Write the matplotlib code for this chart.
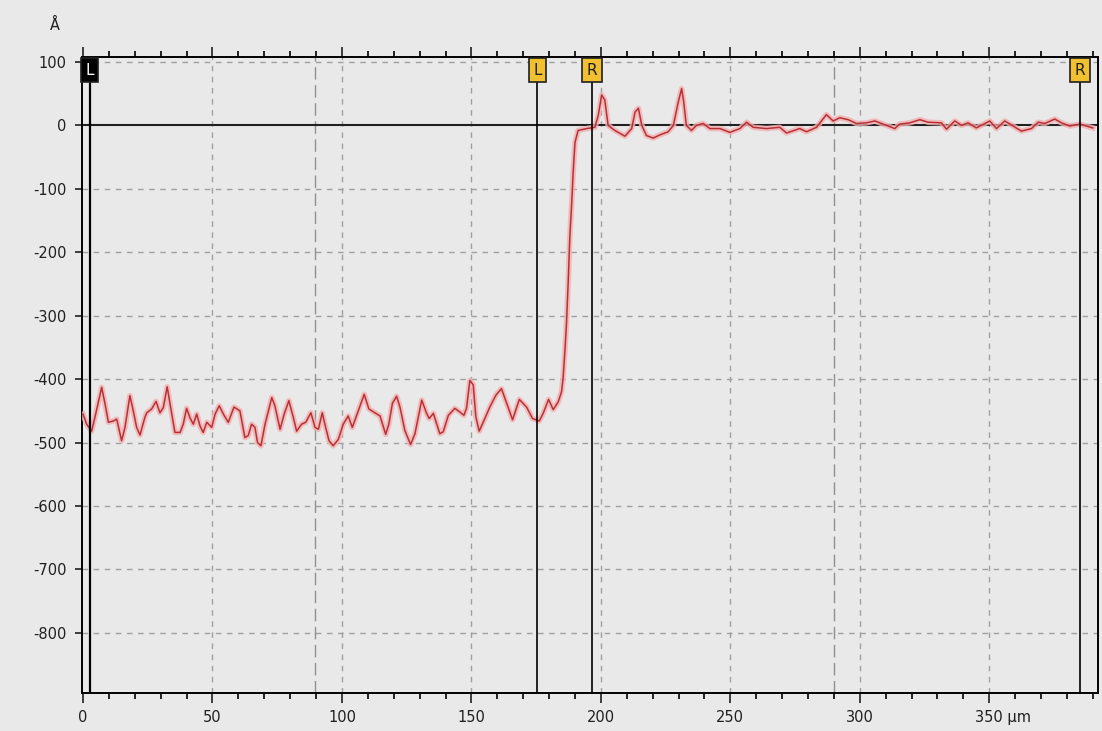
import matplotlib
matplotlib.use("Agg")
import matplotlib.pyplot as plt
from matplotlib.ticker import MultipleLocator
from matplotlib.transforms import blended_transform_factory, ScaledTranslation

plt.rcParams["axes.unicode_minus"] = False

# profile (x in µm, height in Å)
profile_x = [0, 1.4, 3.3, 4.6, 7.2, 8.5, 9.8, 11.7, 13, 14.9, 16.2, 18.1, 19.4, 20.7, 22,
             23.9, 24.6, 26.5, 28.2, 29.7, 31, 32.5, 33.6, 35.5, 37.5, 38.7, 40, 41.3, 42.6,
             43.9, 45.2, 46.4, 47.8, 49.7, 51, 52.6, 54.2, 56.1, 58.3, 60.6, 62.5, 63.8,
             65.1, 66.4, 67.4, 68.7, 70.3, 72.9, 74.1, 76.1, 77.7, 79.5, 81.2, 82.5, 84.4,
             86, 88, 89.6, 90.9, 92.4, 93.4, 95, 96.6, 98.6, 100.5, 102.4, 104, 106.3,
             108.6, 110.4, 112.7, 114.7, 116.9, 118.1, 119.5, 121.1, 122.4, 124.3, 126.5,
             128.2, 130.8, 132.7, 133.7, 135.3, 137.8, 139.1, 141.1, 143.6, 145.6, 147.1,
             148.1, 149.4, 150.7, 151.7, 153, 155.2, 157.1, 159.5, 161.6, 163.6, 165.9,
             168.5, 171.3, 173.6, 176.2, 177.7, 179.8, 181.6, 183.5, 184.8, 185.4, 186.1,
             186.7, 187.4, 188, 188.7, 189.3, 190, 191.2, 194.5, 197.7, 199, 200.3, 201.5,
             202.8, 205.4, 209.3, 211.9, 213.2, 214.5, 215.8, 217.6, 220.2, 222.8, 226,
             228, 229.9, 231.2, 232, 233, 235, 236.9, 239.5, 242.1, 246, 249.8, 253.7,
             256.3, 258.8, 264, 269.1, 271.7, 276.8, 279.4, 283.3, 287.1, 289.7, 292.3,
             295.5, 298.7, 302.6, 305.8, 309, 313.5, 315.4, 319.3, 323.2, 326.4, 331.5,
             333.5, 336.7, 339.3, 341.8, 345, 350.2, 352.8, 356, 359.2, 362.4, 366.3,
             368.9, 371.4, 375.3, 377.9, 381.1, 385, 390]
profile_y = [-455, -471, -482, -460, -413, -439, -468, -466, -463, -497, -476, -426, -450,
             -476, -488, -460, -453, -447, -435, -453, -445, -412, -439, -484, -484, -471,
             -446, -461, -471, -455, -474, -484, -468, -476, -455, -442, -455, -468, -444,
             -450, -492, -489, -471, -476, -500, -505, -471, -429, -442, -479, -455, -434,
             -460, -482, -471, -468, -453, -476, -479, -453, -471, -497, -505, -495, -471,
             -458, -476, -450, -424, -447, -453, -458, -487, -471, -438, -427, -444, -481,
             -503, -486, -433, -454, -462, -454, -486, -483, -457, -446, -452, -457, -446,
             -402, -409, -459, -482, -462, -444, -425, -415, -438, -464, -432, -444, -462,
             -466, -454, -432, -448, -436, -420, -399, -356, -314, -245, -176, -125, -74,
             -27, -8, -5, -3, 16, 48, 40, 0, -8, -17, -5, 21, 27, 0, -16, -20, -15, -10,
             0, 37, 58, 37, 0, -8, 0, 3, -5, -5, -11, -5, 5, -3, -5, -3, -12, -5, -10, -3,
             17, 7, 12, 9, 3, 4, 7, 2, -5, 2, 4, 9, 5, 4, -6, 7, 0, 4, -4, 7, -5, 7, -1,
             -9, -5, 5, 3, 10, 4, -1, 2, -4]

cursor_x = [2.5, 175.5, 196.5, 385]
cursor_labels = ["L", "L", "R", "R"]
cursor_active = [True, False, False, False]
ref_lines_x = [89.6, 290]

x_ticks = [0, 50, 100, 150, 200, 250, 300, 350]
x_tick_labels = ["0", "50", "100", "150", "200", "250", "300", "350 µm"]
y_ticks = [100, 0, -100, -200, -300, -400, -500, -600, -700, -800]
y_unit = "Å"

BG = "#e9e9e9"

fig = plt.figure(figsize=(11.02, 7.31), dpi=100, facecolor=BG)
ax = fig.add_axes([82 / 1102, 1 - 693 / 731, (1098 - 82) / 1102, (693 - 57) / 731])
ax.set_facecolor(BG)
ax.set_xlim(-0.4, 392)
ax.set_ylim(-894.7, 107.8)

# grid
for gx in x_ticks[1:]:
  ax.axvline(gx, color="#a0a0a0", lw=1, ls=(0, (4, 4)), zorder=1)
for gy in y_ticks:
  if gy != 0:
    ax.axhline(gy, color="#a0a0a0", lw=1, ls=(0, (4, 4)), zorder=1)
for rx in ref_lines_x:
  ax.axvline(rx, color="#909090", lw=1, ls=(0, (9, 4)), zorder=1)
ax.axhline(0, color="#202020", lw=1.5, zorder=2)

# trace with soft halo
ax.plot(profile_x, profile_y, color="#f2b0b0", lw=4, alpha=0.8, zorder=3,
        solid_joinstyle="round")
ax.plot(profile_x, profile_y, color="#b83036", lw=1.1, zorder=4)

# cursors
trans = blended_transform_factory(ax.transData, ax.transAxes)
for cx, lab, active in zip(cursor_x, cursor_labels, cursor_active):
  ax.axvline(cx, color="black", lw=1.6 if active else 1.2, zorder=5)
  ax.text(cx, 0.979, lab, transform=trans, ha="center", va="center",
          fontsize=11, color="white" if active else "#202020", zorder=6,
          bbox=dict(boxstyle="square,pad=0.3",
                    fc="black" if active else "#f0c030", ec="#202020", lw=1.2))

for s in ax.spines.values():
  s.set_color("black")
  s.set_linewidth(1.4)

ax.set_xticks(x_ticks)
ax.set_xticklabels(x_tick_labels)
ax.xaxis.set_minor_locator(MultipleLocator(10))
ax.set_yticks(y_ticks)
ax.tick_params(axis="x", which="major", direction="out", length=7, width=1.2,
               labelsize=10.5, top=True, pad=5, colors="#202020")
ax.tick_params(axis="x", which="minor", direction="out", length=4, width=1.2, top=True)
ax.tick_params(axis="y", which="major", direction="out", length=5, width=1.2,
               labelsize=10.5, pad=6, colors="#202020")

# last tick label carries the unit: keep the number centred on its tick
last = ax.get_xticklabels()[-1]
last.set_horizontalalignment("left")
last.set_transform(last.get_transform() + ScaledTranslation(-14 / 100, 0, fig.dpi_scale_trans))

fig.text(55 / 1102, 1 - 25 / 731, y_unit, ha="center", va="center", fontsize=10.5,
         color="#202020")

fig.savefig("out.png", dpi=100, facecolor=BG)
